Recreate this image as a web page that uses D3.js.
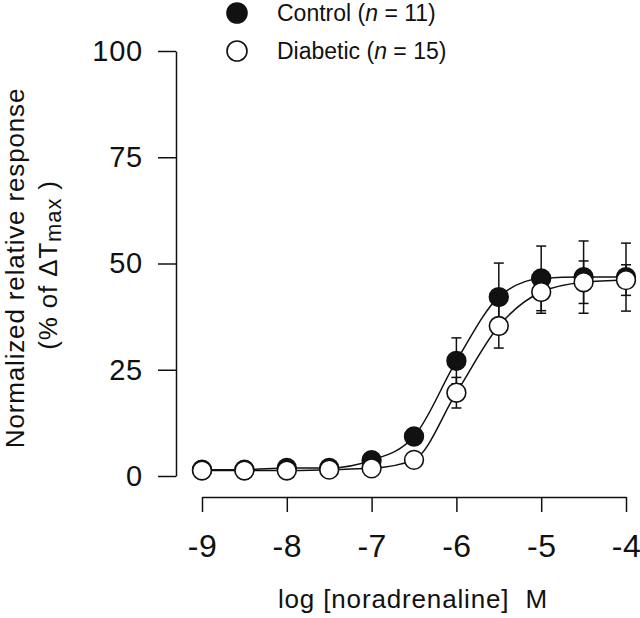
<!DOCTYPE html>
<html>
<head>
<meta charset="utf-8">
<script src="https://cdn.jsdelivr.net/npm/d3@7"></script>
<style>
  html, body { margin: 0; padding: 0; background: #fff; }
  svg { display: block; }
  text { font-family: "Liberation Sans", Arial, Helvetica, sans-serif; fill: #111; }
</style>
</head>
<body>
<svg id="chart" width="640" height="618"></svg>
<script>
// ---- data ----
const logConc = [-9, -8.5, -8, -7.5, -7, -6.5, -6, -5.5, -5, -4.5, -4];
const controlMean = [1.5, 1.5, 1.9, 1.9, 3.7, 9.3, 27.1, 42.1, 46.5, 46.8, 46.8];
const controlSE   = [0.3, 0.3, 0.3, 0.3, 0.5, 1.0, 5.4, 8.0, 7.6, 8.5, 8.0];
const diabeticMean = [1.3, 1.3, 1.3, 1.5, 1.8, 3.8, 19.6, 35.3, 43.3, 45.6, 46.1];
const diabeticSE   = [0.3, 0.3, 0.3, 0.3, 0.4, 0.8, 3.6, 5.2, 5.0, 5.0, 3.6];
const xTicks = [-9, -8, -7, -6, -5, -4];
const yTicks = [0, 25, 50, 75, 100];
const legendLabels = [
  { name: "Control", n: "11", filled: true },
  { name: "Diabetic", n: "15", filled: false }
];

const svg = d3.select("#chart");
const x = d3.scaleLinear().domain([-9, -4]).range([202, 626]);
const y = d3.scaleLinear().domain([0, 100]).range([476, 51]);

// ---- axes ----
const yAxis = svg.append("g")
  .attr("transform", "translate(176,0)")
  .call(d3.axisLeft(y).tickValues(yTicks).tickSize(18).tickSizeOuter(0).tickPadding(15).tickFormat(d3.format("d")));
yAxis.selectAll("text").style("font-size", "29px").style("letter-spacing", "0.8px")
  .attr("font-family", null).attr("fill", "#111");

const xAxis = svg.append("g")
  .attr("transform", "translate(0,497)")
  .call(d3.axisBottom(x).tickValues(xTicks).tickSize(15).tickSizeOuter(0).tickPadding(22).tickFormat(d => d));
xAxis.selectAll("text").style("font-size", "32px").style("letter-spacing", "0.5px")
  .attr("font-family", null).attr("fill", "#111");

svg.selectAll(".domain, .tick line").attr("stroke", "#111").attr("stroke-width", 1.5);

// ---- axis titles ----
svg.append("text")
  .attr("x", 413).attr("y", 608)
  .attr("text-anchor", "middle")
  .style("font-size", "26px").style("letter-spacing", "0.85px")
  .text("log [noradrenaline]\u00A0\u00A0M");

svg.append("text")
  .attr("transform", "translate(24,268) rotate(-90)")
  .attr("text-anchor", "middle")
  .style("font-size", "26px").style("letter-spacing", "0.85px")
  .text("Normalized relative response");

const t2 = svg.append("text")
  .attr("transform", "translate(57,265) rotate(-90)")
  .attr("text-anchor", "middle")
  .style("font-size", "26px").style("letter-spacing", "0.85px");
t2.append("tspan").text("(% of \u0394T");
t2.append("tspan").attr("dy", 4).style("font-size", "22px").text("max");
t2.append("tspan").attr("dy", -4).text("\u00A0)");

// ---- data series ----
const series = [
  { mean: controlMean, se: controlSE, filled: true },
  { mean: diabeticMean, se: diabeticSE, filled: false }
];

const line = d3.line().x(d => x(d[0])).y(d => y(d[1])).curve(d3.curveMonotoneX);
const capW = 5;

// error bars
series.forEach(s => {
  const g = svg.append("g").attr("stroke", "#111").attr("stroke-width", 1.5).attr("fill", "none");
  logConc.forEach((c, i) => {
    const lo = s.mean[i] - s.se[i], hi = s.mean[i] + s.se[i];
    g.append("line").attr("x1", x(c)).attr("x2", x(c)).attr("y1", y(lo)).attr("y2", y(hi));
    g.append("line").attr("x1", x(c) - capW).attr("x2", x(c) + capW).attr("y1", y(lo)).attr("y2", y(lo));
    g.append("line").attr("x1", x(c) - capW).attr("x2", x(c) + capW).attr("y1", y(hi)).attr("y2", y(hi));
  });
});

// curves
series.forEach(s => {
  svg.append("path")
    .datum(logConc.map((c, i) => [c, s.mean[i]]))
    .attr("d", line)
    .attr("fill", "none").attr("stroke", "#111").attr("stroke-width", 1.5);
});

// points (control first, diabetic on top)
series.forEach(s => {
  svg.append("g").selectAll("circle")
    .data(logConc.map((c, i) => [c, s.mean[i]]))
    .join("circle")
    .attr("cx", d => x(d[0])).attr("cy", d => y(d[1]))
    .attr("r", 9.4)
    .attr("fill", s.filled ? "#111" : "#fff")
    .attr("stroke", "#111").attr("stroke-width", 1.6);
});

// ---- legend ----
const legY = [13, 51];
legendLabels.forEach((L, i) => {
  svg.append("circle")
    .attr("cx", 237).attr("cy", legY[i]).attr("r", 10)
    .attr("fill", L.filled ? "#111" : "#fff")
    .attr("stroke", "#111").attr("stroke-width", 1.6);
  const t = svg.append("text")
    .attr("x", 277).attr("y", legY[i] + 8)
    .style("font-size", "23px");
  t.append("tspan").text(L.name + " (");
  t.append("tspan").style("font-style", "italic").text("n");
  t.append("tspan").text(" = " + L.n + ")");
});
</script>
</body>
</html>
